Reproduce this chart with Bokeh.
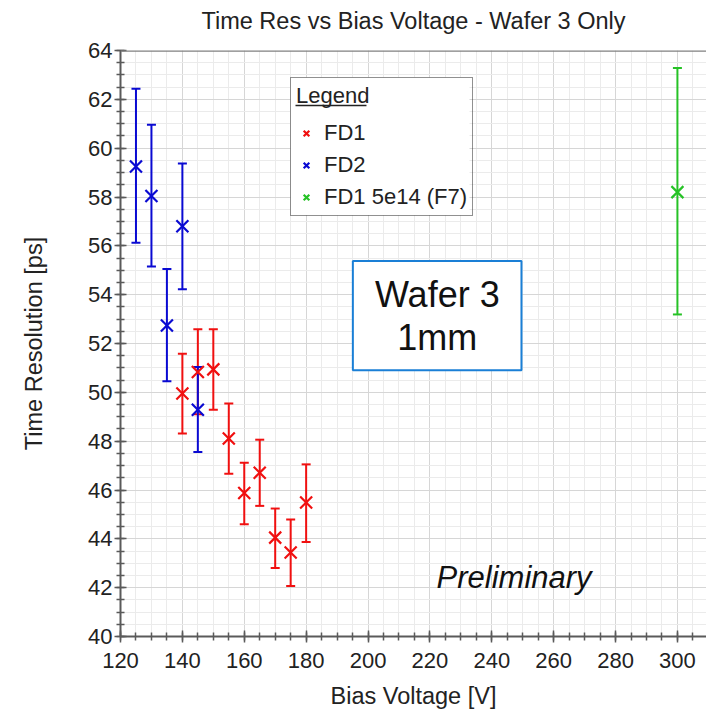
from bokeh.plotting import figure
from bokeh.models import (Range1d, SingleIntervalTicker, Legend, LegendItem,
                          BoxAnnotation, Label, Span, ColumnDataSource, Title)
from bokeh.embed import file_html
from bokeh.resources import INLINE

# ---------------- data ----------------
fd1_x = [140, 145, 150, 155, 160, 165, 170, 175, 180]
fd1_y = [49.95, 50.83, 50.94, 48.11, 45.88, 46.71, 44.05, 43.44, 45.49]
fd1_hi = [51.58, 52.58, 52.58, 49.54, 47.12, 48.06, 45.24, 44.79, 47.05]
fd1_lo = [48.31, 49.10, 49.29, 46.67, 44.60, 45.35, 42.81, 42.07, 43.87]

fd2_x = [125, 130, 135, 140, 145]
fd2_y = [59.25, 58.04, 52.74, 56.80, 49.29]
fd2_hi = [62.43, 60.96, 55.05, 59.37, 51.04]
fd2_lo = [56.13, 55.15, 50.45, 54.22, 47.56]

f7_x = [300]
f7_y = [58.20]
f7_hi = [63.28]
f7_lo = [53.19]

series = [
    ("FD1", fd1_x, fd1_y, fd1_lo, fd1_hi, "#f01010"),
    ("FD2", fd2_x, fd2_y, fd2_lo, fd2_hi, "#0a0ad2"),
    ("FD1 5e14 (F7)", f7_x, f7_y, f7_lo, f7_hi, "#26c226"),
]

TITLE = "Time Res vs Bias Voltage - Wafer 3 Only"
FONT = "Liberation Sans"

X0, X1 = 120, 309.4
Y0, Y1 = 40, 64

p = figure(width=706, height=714,
           x_range=Range1d(X0, X1), y_range=Range1d(Y0, Y1),
           output_backend="svg", toolbar_location=None,
           min_border_left=120, min_border_right=0,
           min_border_top=50, min_border_bottom=78,
           title=TITLE)

p.background_fill_color = "white"
p.border_fill_color = "white"
p.outline_line_color = None

p.title.text_font = FONT
p.title.text_font_size = "23.5px"
p.title.text_font_style = "normal"
p.title.text_color = "#222222"
p.title.align = "center"
p.title.standoff = 8

# spacer between title and frame
p.add_layout(Title(text=" ", text_font_size="2px", standoff=9), "above")

xt = SingleIntervalTicker(interval=20, num_minor_ticks=4)
yt = SingleIntervalTicker(interval=2, num_minor_ticks=4)
p.xaxis.ticker = xt
p.yaxis.ticker = yt
p.xgrid.ticker = xt
p.ygrid.ticker = yt

for ax in (p.xaxis, p.yaxis):
    ax.axis_line_color = "#5a5a5a"
    ax.axis_line_width = 2
    ax.major_tick_line_color = "#5a5a5a"
    ax.major_tick_line_width = 1.5
    ax.minor_tick_line_color = "#5a5a5a"
    ax.minor_tick_line_width = 1.5
    ax.major_tick_in = 6
    ax.major_tick_out = 6
    ax.minor_tick_in = 4
    ax.minor_tick_out = 4
    ax.major_label_text_font = FONT
    ax.major_label_text_font_size = "22px"
    ax.major_label_text_color = "#222222"
    ax.axis_label_text_font = FONT
    ax.axis_label_text_font_size = "23.5px"
    ax.axis_label_text_font_style = "normal"
    ax.axis_label_text_color = "#222222"

p.yaxis.major_label_standoff = 2
p.xaxis.major_label_standoff = 10
p.xaxis.axis_label = "Bias Voltage [V]"
p.yaxis.axis_label = "Time Resolution [ps]"
p.xaxis.axis_label_standoff = 12
p.yaxis.axis_label_standoff = 38

for g in (p.xgrid, p.ygrid):
    g.grid_line_color = "#d6d6d6"
    g.grid_line_width = 1
    g.minor_grid_line_color = "#ebebeb"
    g.minor_grid_line_width = 1

p.add_layout(Span(location=Y1, dimension="width", line_color="#808080", line_width=2.5))

# white backing for the legend (legend itself is transparent so the title underline shows)
p.add_layout(BoxAnnotation(left=174.95, right=232.8, bottom=57.25, top=62.9,
                           fill_color="white", fill_alpha=1, line_alpha=0,
                           level="underlay"))

# underline for legend title
ul_src = ColumnDataSource(dict(x0=[176.56], x1=[199.5], y=[61.75]))
p.segment(x0="x0", y0="y", x1="x1", y1="y", source=ul_src,
          line_color="#222222", line_width=1.5)

# error bars first
for name, xs, ys, lo, hi, col in series:
    src = ColumnDataSource(dict(x=xs, y=ys, lo=lo, hi=hi))
    p.segment(x0="x", y0="lo", x1="x", y1="hi", source=src, line_color=col, line_width=2)
    p.scatter(x="x", y="lo", source=src, marker="dash", size=9, line_color=col, line_width=2)
    p.scatter(x="x", y="hi", source=src, marker="dash", size=9, line_color=col, line_width=2)

# markers on top
items = []
for name, xs, ys, lo, hi, col in series:
    src = ColumnDataSource(dict(x=xs, y=ys))
    r = p.scatter(x="x", y="y", source=src, marker="x", size=17, line_color=col, line_width=2.2)
    items.append(LegendItem(label=name, renderers=[r]))

legend = Legend(items=items, title="Legend", location=(170, 420),
                title_text_font=FONT, title_text_font_size="22px",
                title_text_font_style="normal", title_text_color="#222222",
                label_text_font=FONT, label_text_font_size="22px",
                label_text_color="#222222",
                glyph_width=20, glyph_height=20, label_height=24,
                label_standoff=8, spacing=6, padding=5, margin=0,
                title_standoff=11,
                border_line_color="#222222", border_line_width=1.5,
                background_fill_alpha=0)
p.add_layout(legend, "center")

# text box
p.add_layout(BoxAnnotation(left=195.1, right=249.6, bottom=50.9, top=55.38,
                           fill_color="white", fill_alpha=1,
                           line_color="#1a7fd6", line_alpha=1, line_width=2,
                           level="underlay"))
p.add_layout(Label(x=222.4, y=54.01, text="Wafer 3", text_align="center",
                   text_baseline="middle", text_font=FONT, text_font_size="36px",
                   text_color="#111111"))
p.add_layout(Label(x=222.4, y=52.25, text="1mm", text_align="center",
                   text_baseline="middle", text_font=FONT, text_font_size="36px",
                   text_color="#111111"))
p.add_layout(Label(x=247.2, y=42.43, text="Preliminary", text_align="center",
                   text_baseline="middle", text_font=FONT, text_font_size="31px",
                   text_font_style="italic", text_color="#111111"))

open("out.html", "w").write(file_html(p, INLINE))
